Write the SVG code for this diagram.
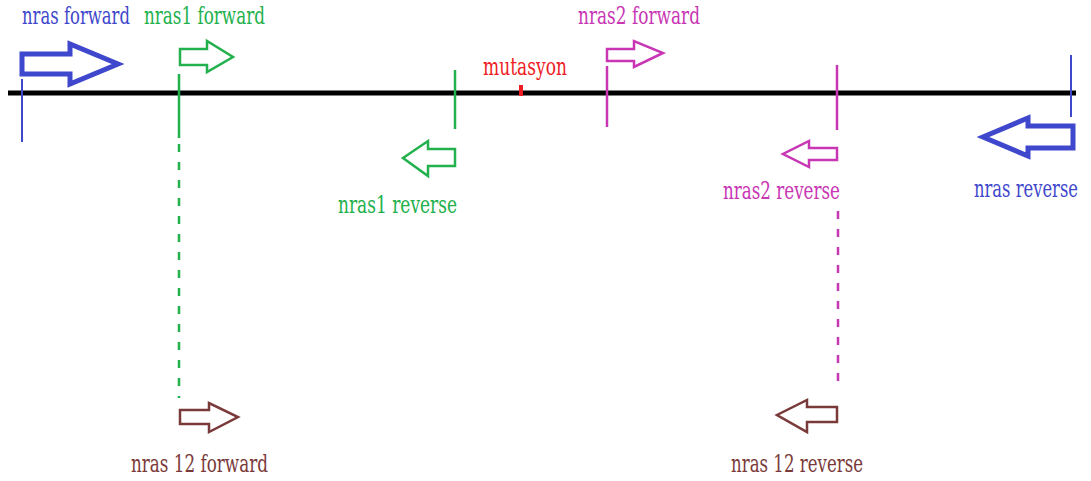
<svg xmlns="http://www.w3.org/2000/svg" width="1091" height="481" viewBox="0 0 1091 481">
<style>
.lbl{font-family:'DejaVu Serif','Liberation Serif','Noto Serif','Times New Roman',serif;font-size:24px}
.arr{fill:none;stroke-linejoin:miter}
.blue{stroke:#3f48cc}.green{stroke:#22b14c}.mag{stroke:#c836b4}.brown{stroke:#7a3a3a}
.tb{fill:#3f48cc}.tg{fill:#22b14c}.tm{fill:#c836b4}.tr{fill:#ed1c24}.tbr{fill:#7a3a3a}
.dash{stroke-width:2.5;stroke-dasharray:8 10}
</style>
<rect width="1091" height="481" fill="#fff"/>
<g id="backbone">
<line x1="8" y1="93" x2="1076" y2="93" stroke="#000" stroke-width="5"/>
</g>
<g id="mutation">
<line x1="521" y1="85" x2="521" y2="96" stroke="#ed1c24" stroke-width="4"/>
<text class="lbl tr" x="483" y="75" textLength="84" lengthAdjust="spacingAndGlyphs">mutasyon</text>
</g>
<g id="connectors">
<line x1="22" y1="79" x2="22" y2="142" class="blue" stroke-width="2"/>
<line x1="1071" y1="55" x2="1071" y2="117" class="blue" stroke-width="2"/>
<line x1="179" y1="74" x2="179" y2="138" class="green" stroke-width="2.5"/>
<line x1="179" y1="144" x2="179" y2="398" class="green dash"/>
<line x1="455" y1="70" x2="455" y2="129" class="green" stroke-width="2.5"/>
<line x1="607" y1="66" x2="607" y2="127" class="mag" stroke-width="2.5"/>
<line x1="837" y1="65" x2="837" y2="130" class="mag" stroke-width="2.5"/>
<line x1="838" y1="211" x2="838" y2="390" class="mag dash"/>
</g>
<g id="nras-forward">
<path class="arr blue" stroke-width="5" d="M22 54 H70 V44 L118 64 L70 84 V74 H22 Z"/>
<text class="lbl tb" x="22" y="24" textLength="108" lengthAdjust="spacingAndGlyphs">nras forward</text>
</g>
<g id="nras1-forward">
<path class="arr green" stroke-width="2.5" d="M180 49 H207 V41 L233 57 L207 72 V65 H180 Z"/>
<text class="lbl tg" x="144" y="24" textLength="121" lengthAdjust="spacingAndGlyphs">nras1 forward</text>
</g>
<g id="nras1-reverse">
<path class="arr green" stroke-width="2.5" d="M455 149 H428 V141 L403 158 L428 176 V166 H455 Z"/>
<text class="lbl tg" x="338" y="213" textLength="119" lengthAdjust="spacingAndGlyphs">nras1 reverse</text>
</g>
<g id="nras2-forward">
<path class="arr mag" stroke-width="2.5" d="M607 49 H634 V41 L663 53 L634 67 V61 H607 Z"/>
<text class="lbl tm" x="578" y="24" textLength="122" lengthAdjust="spacingAndGlyphs">nras2 forward</text>
</g>
<g id="nras2-reverse">
<path class="arr mag" stroke-width="2.5" d="M837 148 H809 V141 L783 154 L809 167 V160 H837 Z"/>
<text class="lbl tm" x="723" y="199" textLength="117" lengthAdjust="spacingAndGlyphs">nras2 reverse</text>
</g>
<g id="nras-reverse">
<path class="arr blue" stroke-width="5" d="M1073 126 H1028 V118 L983 137 L1028 156 V148 H1073 Z"/>
<text class="lbl tb" x="974" y="197" textLength="104" lengthAdjust="spacingAndGlyphs">nras reverse</text>
</g>
<g id="nras12-forward">
<path class="arr brown" stroke-width="2.5" d="M180 410 H209 V403 L238 417 L209 432 V424 H180 Z"/>
<text class="lbl tbr" x="131" y="472" textLength="137" lengthAdjust="spacingAndGlyphs">nras 12 forward</text>
</g>
<g id="nras12-reverse">
<path class="arr brown" stroke-width="2.5" d="M837 407 H807 V400 L777 415 L807 432 V422 H837 Z"/>
<text class="lbl tbr" x="731" y="472" textLength="132" lengthAdjust="spacingAndGlyphs">nras 12 reverse</text>
</g>
</svg>
